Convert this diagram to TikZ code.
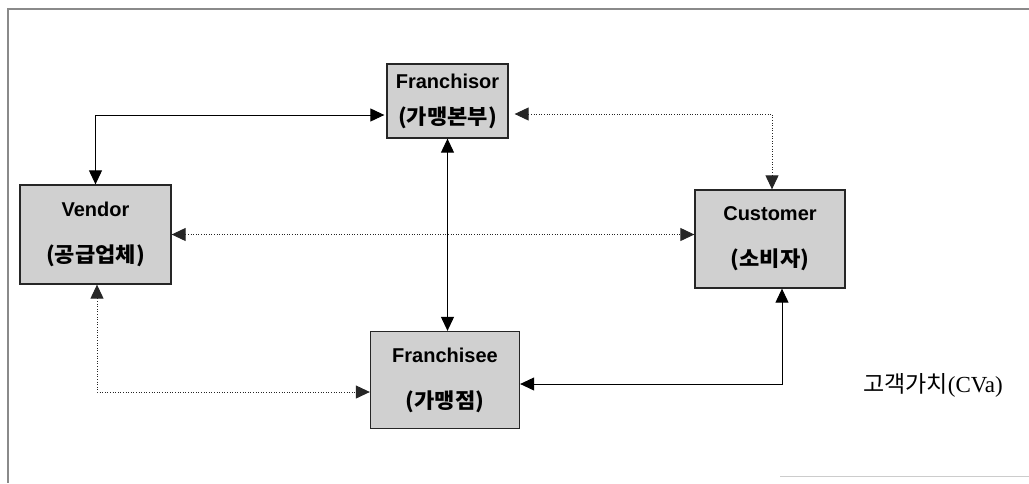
\documentclass[tikz,border=0pt]{standalone}
\usepackage{fontspec}
\setmainfont{Liberation Sans}
\newfontfamily\kr[FakeStretch=1.05]{Noto Sans CJK KR}
\newfontfamily\krplain{Noto Sans CJK KR}
\newfontfamily\serifl{Liberation Serif}
\usetikzlibrary{arrows.meta,calc}
\definecolor{boxfill}{HTML}{D0D0D0}
\definecolor{framegray}{HTML}{8A8A8A}
\begin{document}
\begin{tikzpicture}[x=1pt,y=-1pt,
  box/.style={draw=black!85,line width=1.3pt,fill=boxfill,inner sep=0pt,align=center,
    font=\fontsize{20}{46}\selectfont\bfseries},
  link/.style={line width=1pt,{Triangle[length=14pt,width=13pt]}-{Triangle[length=14pt,width=13pt]}},
  solidlink/.style={link,black},
  dotlink/.style={link,black!85,dash pattern=on 1pt off 1.6pt},
  framestyle/.style={draw=framegray,line width=2pt}
]
\useasboundingbox (0,0) rectangle (1029,483);
% outer frame
\coordinate (ftr) at (1029,9);
\coordinate (ftl) at (8,9);
\coordinate (fbl) at (8,483);
\draw[framestyle] (ftr) -- (ftl) -- (fbl);
\coordinate (bl1) at (780,476);
\coordinate (bl2) at (1029,476);
\draw[draw=black!20,line width=0.8pt] (bl1) -- (bl2);

% boxes
\node[box,minimum width=121pt,minimum height=74pt,font=\fontsize{20}{36}\selectfont\bfseries] (franchisor) at (447.5,101)
  {Franchisor\\{\fontsize{21}{36}\selectfont\kr\bfseries (가맹본부)}};
\node[box,minimum width=151pt,minimum height=99pt] (vendor) at (95.5,234.5)
  {Vendor\\{\fontsize{21}{46}\selectfont\kr\bfseries (공급업체)}};
\node[box,minimum width=150pt,minimum height=98pt] (customer) at (770,239)
  {Customer\\{\fontsize{21}{46}\selectfont\kr\bfseries (소비자)}};
\node[box,minimum width=149pt,minimum height=97pt] (franchisee) at (445,380)
  {Franchisee\\{\fontsize{21}{46}\selectfont\kr\bfseries (가맹점)}};

\node[font=\fontsize{23}{26}\selectfont,inner sep=0pt] (cva) at (933,385)
  {\krplain 고객가치\serifl(CVa)};

% connectors
\draw[solidlink,shorten <=2pt] ($(franchisor.west)+(0,14)$) -| (vendor.north);
\draw[dotlink,shorten <=6pt] ($(franchisor.east)+(0,13)$) -| ($(customer.north)+(2,0)$);
\draw[dotlink] (vendor.east) -- (vendor.east -| customer.west);
\draw[solidlink] (franchisor.south) -- (franchisor.south |- franchisee.north);
\draw[dotlink] ($(vendor.south)+(1.5,0)$) |- ($(franchisee.west)+(0,12)$);
\draw[solidlink] ($(customer.south)+(12,0)$) |- ($(franchisee.east)+(0,4)$);
\end{tikzpicture}
\end{document}
